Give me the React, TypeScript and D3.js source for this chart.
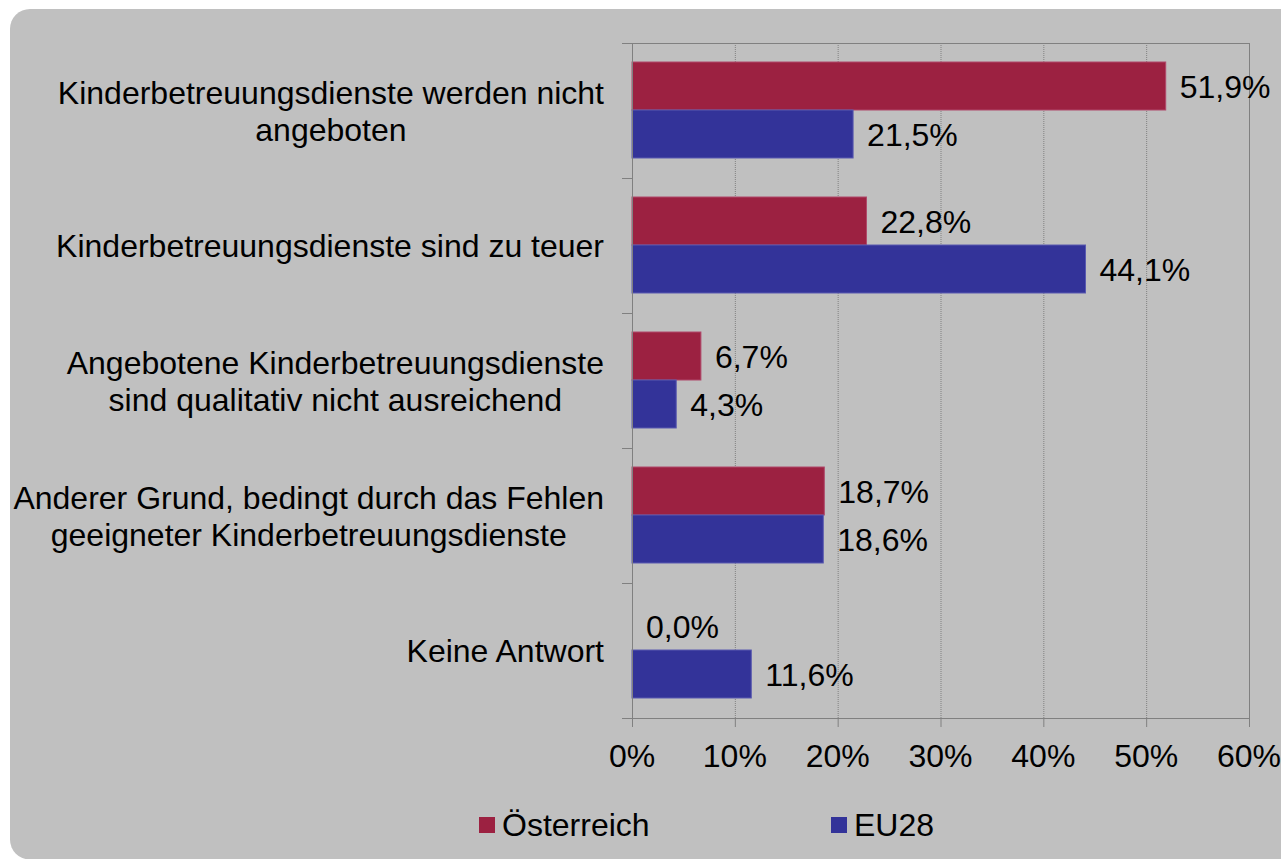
import React, { useEffect, useRef } from "react";
import * as d3 from "d3";

const categories = [
  ["Kinderbetreuungsdienste werden nicht", "angeboten"],
  ["Kinderbetreuungsdienste sind zu teuer"],
  ["Angebotene Kinderbetreuungsdienste", "sind qualitativ nicht ausreichend"],
  ["Anderer Grund, bedingt durch das Fehlen", "geeigneter Kinderbetreuungsdienste"],
  ["Keine Antwort"],
];
const seriesNames = ["Österreich", "EU28"];
const oesterreich = [51.9, 22.8, 6.7, 18.7, 0.0];
const eu28 = [21.5, 44.1, 4.3, 18.6, 11.6];
const xTicks = [0, 10, 20, 30, 40, 50, 60];
const colors = ["#9C2141", "#333399"];
const strokes = ["#B0486A", "#5A5AB0"];

const W = 1281;
const H = 859;
const FONT = "'Liberation Sans', Arial, sans-serif";
const FS = 32;

export default function App() {
  const ref = useRef<SVGSVGElement | null>(null);

  useEffect(() => {
    const svg = d3.select(ref.current);
    svg.selectAll("*").remove();

    svg
      .append("rect")
      .attr("x", 10)
      .attr("y", 9)
      .attr("width", W - 10 + 20)
      .attr("height", H - 9 + 0.5)
      .attr("rx", 20)
      .attr("fill", "#C0C0C0");

    const left = 632;
    const right = 1249;
    const top = 43;
    const bottom = 718;
    const x = d3.scaleLinear().domain([0, 60]).range([left, right]);
    const idx = categories.map((_, i) => String(i));
    const y = d3.scaleBand().domain(idx).range([top, bottom]).padding(0);
    const inner = d3.scaleBand().domain(seriesNames).range([19, 115]).padding(0);
    const seriesVals = [oesterreich, eu28];

    const g = svg.append("g").attr("font-family", FONT).attr("font-size", FS);

    // gridlines
    g.selectAll("line.grid")
      .data(xTicks.filter((t) => t > 0 && t < 60))
      .enter()
      .append("line")
      .attr("x1", (d) => x(d) + 0.5)
      .attr("x2", (d) => x(d) + 0.5)
      .attr("y1", top)
      .attr("y2", bottom)
      .attr("stroke", "#808080")
      .attr("stroke-width", 1)
      .attr("stroke-dasharray", "1,1");

    // plot border top & right
    g.append("line")
      .attr("x1", left - 10)
      .attr("x2", right + 0.5)
      .attr("y1", top + 0.5)
      .attr("y2", top + 0.5)
      .attr("stroke", "#808080");
    g.append("line")
      .attr("x1", right + 0.5)
      .attr("x2", right + 0.5)
      .attr("y1", top)
      .attr("y2", bottom)
      .attr("stroke", "#808080");

    // bars
    seriesNames.forEach((s, si) => {
      g.selectAll(`rect.s${si}`)
        .data(seriesVals[si])
        .enter()
        .append("rect")
        .attr("x", left)
        .attr("y", (_, i) => (y(String(i)) as number) + (inner(s) as number))
        .attr("width", (d) => x(d) - left)
        .attr("height", inner.bandwidth())
        .attr("fill", colors[si])
        .attr("stroke", (d) => (d > 0 ? strokes[si] : "none"))
        .attr("stroke-width", 1);

      g.selectAll(`text.v${si}`)
        .data(seriesVals[si])
        .enter()
        .append("text")
        .attr("x", (d) => x(d) + 14)
        .attr(
          "y",
          (_, i) =>
            (y(String(i)) as number) + (inner(s) as number) + inner.bandwidth() / 2 + 11.5
        )
        .attr("fill", "#000")
        .text((d) => d.toFixed(1).replace(".", ",") + "%");
    });

    // axes lines
    g.append("line")
      .attr("x1", left + 0.5)
      .attr("x2", left + 0.5)
      .attr("y1", top)
      .attr("y2", bottom + 9)
      .attr("stroke", "#808080");
    g.append("line")
      .attr("x1", left - 10)
      .attr("x2", right + 0.5)
      .attr("y1", bottom + 0.5)
      .attr("y2", bottom + 0.5)
      .attr("stroke", "#808080");

    // category ticks
    const bounds = idx.map((d) => y(d) as number).concat([bottom]);
    g.selectAll("line.ctick")
      .data(bounds)
      .enter()
      .append("line")
      .attr("x1", left - 10)
      .attr("x2", left)
      .attr("y1", (d) => d + 0.5)
      .attr("y2", (d) => d + 0.5)
      .attr("stroke", "#808080");

    // x ticks
    g.selectAll("line.xtick")
      .data(xTicks)
      .enter()
      .append("line")
      .attr("x1", (d) => x(d) + 0.5)
      .attr("x2", (d) => x(d) + 0.5)
      .attr("y1", bottom)
      .attr("y2", bottom + 9)
      .attr("stroke", "#808080");

    g.selectAll("text.xlab")
      .data(xTicks)
      .enter()
      .append("text")
      .attr("x", (d) => x(d))
      .attr("y", 767)
      .attr("text-anchor", "middle")
      .attr("fill", "#000")
      .text((d) => d + "%");

    // category labels
    const labelRight = 604;
    const lh = 37;
    categories.forEach((lines, i) => {
      const cy = (y(String(i)) as number) + y.bandwidth() / 2;
      const tg = g.append("g");
      const texts = lines.map((ln, li) =>
        tg
          .append("text")
          .attr("y", cy + (li - (lines.length - 1) / 2) * lh + 11.5)
          .attr("fill", "#000")
          .attr("text-anchor", "middle")
          .text(ln)
      );
      const maxW = d3.max(texts, (t) => (t.node() as SVGTextElement).getComputedTextLength()) || 0;
      texts.forEach((t) => t.attr("x", labelRight - maxW / 2));
    });

    // legend
    const legendItems = [
      { name: seriesNames[0], x: 479 },
      { name: seriesNames[1], x: 831 },
    ];
    legendItems.forEach((it, i) => {
      g.append("rect")
        .attr("x", it.x)
        .attr("y", 817)
        .attr("width", 16)
        .attr("height", 16)
        .attr("fill", colors[i]);
      g.append("text")
        .attr("x", it.x + 23)
        .attr("y", 836)
        .attr("fill", "#000")
        .text(it.name);
    });
  }, []);

  return (
    <svg
      ref={ref}
      width={W}
      height={H}
      style={{ position: "absolute", left: 0, top: 0, display: "block" }}
    />
  );
}
